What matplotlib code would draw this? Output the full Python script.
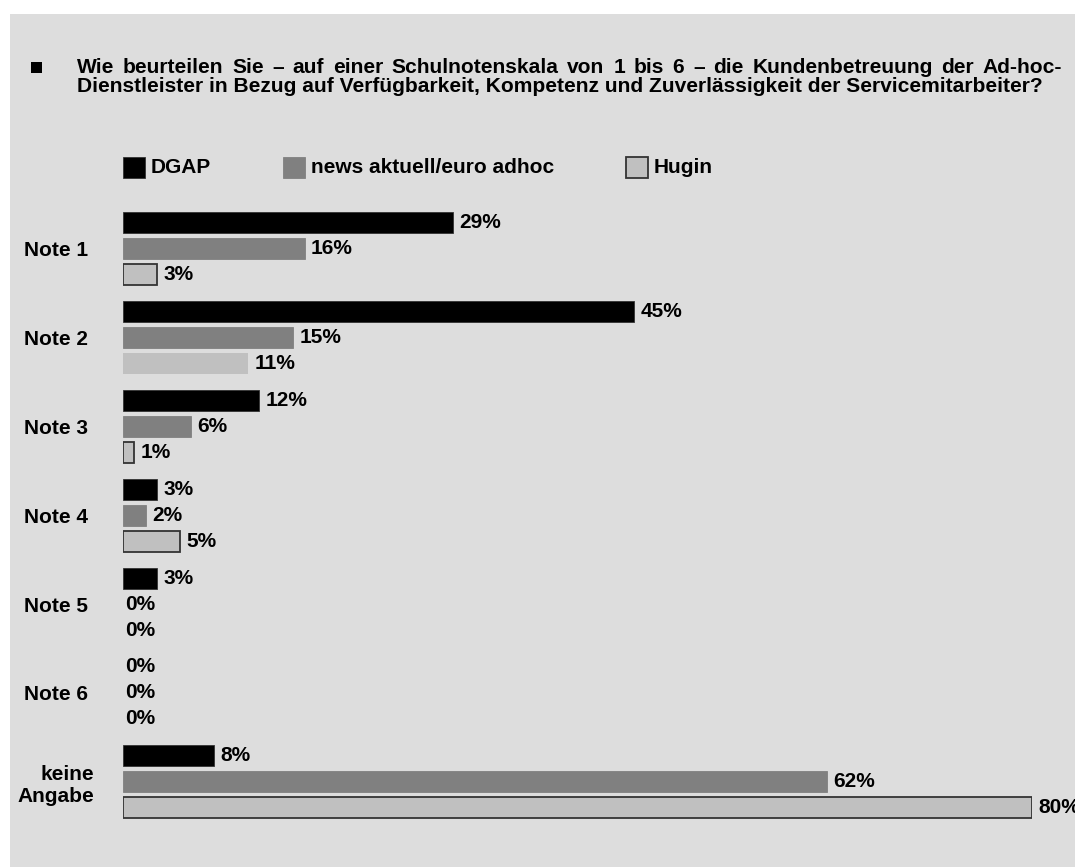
import matplotlib
matplotlib.use("Agg")
import matplotlib.pyplot as plt
from matplotlib.patches import Rectangle
import numpy as np

# ---------------- data ----------------
categories = ["Note 1", "Note 2", "Note 3", "Note 4", "Note 5", "Note 6", "keine\nAngabe"]
series_names = ["DGAP", "news aktuell/euro adhoc", "Hugin"]
dgap = [29, 45, 12, 3, 3, 0, 8]
news = [16, 15, 6, 2, 0, 0, 62]
hugin = [3, 11, 1, 5, 0, 0, 80]
title_line1 = "Wie beurteilen Sie \u2013 auf einer Schulnotenskala von 1 bis 6 \u2013 die Kundenbetreuung der Ad-hoc-"
title_line2 = "Dienstleister in Bezug auf Verf\u00fcgbarkeit, Kompetenz und Zuverl\u00e4ssigkeit der Servicemitarbeiter?"

# ---------------- style ----------------
FONT = ["Liberation Sans", "DejaVu Sans"]
plt.rcParams["font.family"] = FONT
plt.rcParams["font.weight"] = "bold"
BG = "#dddddd"
colors = ["#000000", "#808080", "#c0c0c0"]
edges = ["#333333", "#808080", "#333333"]
edge_lw = [0.6, 0.6, 1.3]
LBL = 15

W, H = 1075, 867
fig = plt.figure(figsize=(W / 100, H / 100), dpi=100)
fig.patch.set_facecolor("white")

def fx(x):
    return x / W

def fy(y):
    return 1 - y / H

# gray panel
fig.patches.append(Rectangle((fx(10), 0), 1 - fx(10), fy(14), transform=fig.transFigure,
                             facecolor=BG, edgecolor="none", zorder=-10))

# ---------------- title ----------------
L1, L2 = 73, 92
fig.patches.append(Rectangle((fx(31), fy(L1)), 11 / W, 11 / H, transform=fig.transFigure,
                             facecolor="black", edgecolor="none"))
renderer = fig.canvas.get_renderer()
x0, x1_line1, x1_line2 = 77, 1062, 1046
t2 = fig.text(fx(x0), fy(L2), title_line2, fontsize=12.5, fontweight="bold", va="baseline", ha="left")
w2 = t2.get_window_extent(renderer).width
tsize = 12.5 * (x1_line2 - x0) / w2
t2.set_fontsize(tsize)

words = title_line1.split(" ")
wtexts = [fig.text(0, fy(L1), w, fontsize=tsize, fontweight="bold", va="baseline", ha="left") for w in words]
widths = [t.get_window_extent(renderer).width for t in wtexts]
gap = ((x1_line1 - x0) - sum(widths)) / (len(words) - 1)
xpos = x0
for t, w in zip(wtexts, widths):
    t.set_x(fx(xpos))
    xpos += w + gap

# ---------------- legend ----------------
leg_x = [123, 283, 626]
for i, name in enumerate(series_names):
    fig.patches.append(Rectangle((fx(leg_x[i]), fy(178)), 22 / W, 21 / H, transform=fig.transFigure,
                                 facecolor=colors[i], edgecolor=edges[i], linewidth=edge_lw[i]))
    fig.text(fx(leg_x[i] + 28), fy(167.5), name, fontsize=LBL, fontweight="bold", va="center", ha="left")

# ---------------- bars ----------------
ax_top, ax_bot = 200, 830
ax = fig.add_axes([fx(123), fy(ax_bot), (1032 - 123) / W, (ax_bot - ax_top) / H])
ax.set_facecolor("none")
pitch = 88.9
first_center = 248.5
ax.set_xlim(0, 80)
ax.set_ylim((ax_bot - first_center) / pitch, (ax_top - first_center) / pitch)

n = len(categories)
y = np.arange(n)
off = 26 / pitch
bh = 21 / pitch
for k, vals in enumerate([dgap, news, hugin]):
    yy = y + (k - 1) * off
    bars = ax.barh(yy, vals, height=bh, color=colors[k], edgecolor=edges[k], linewidth=edge_lw[k])
    for j, (b, v) in enumerate(zip(bars, vals)):
        if v == 0:
            b.set_visible(False)
        if k == 2 and j == 1:
            b.set_edgecolor("none")
        pad = 1.5 if v == 0 else 4.5
        ax.annotate(f"{v}%", xy=(v, yy[j]), xytext=(pad, 0), textcoords="offset points",
                    ha="left", va="center", fontsize=LBL, fontweight="bold", annotation_clip=False)

ax.set_yticks(y, categories)
ax.tick_params(axis="y", length=0, pad=(123 - 56) * 0.72, labelsize=LBL)
for lbl in ax.get_yticklabels():
    lbl.set_ha("center")
    lbl.set_multialignment("right")
    lbl.set_fontweight("bold")
ax.set_xticks([])
for s in ax.spines.values():
    s.set_visible(False)

fig.savefig("out.png", dpi=100, facecolor=fig.get_facecolor())
